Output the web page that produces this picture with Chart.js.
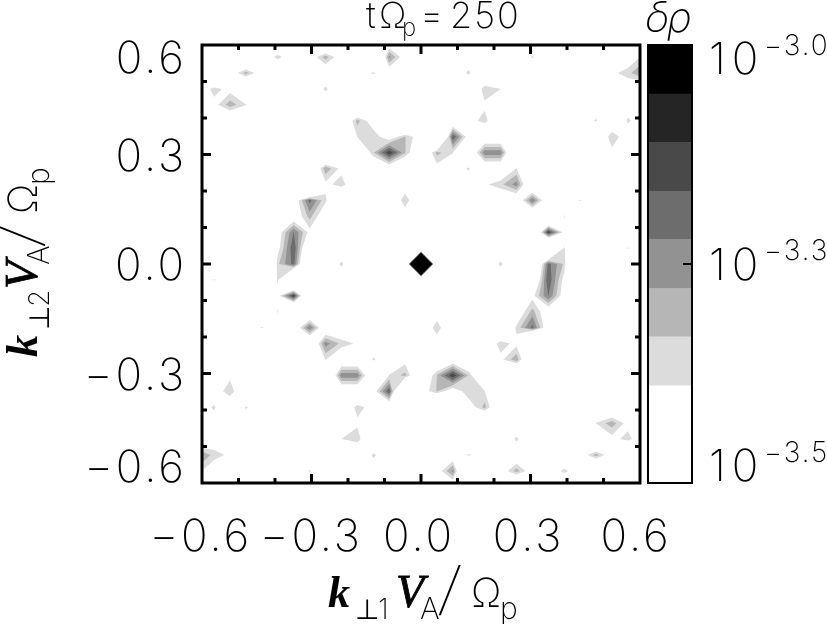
<!DOCTYPE html>
<html><head><meta charset="utf-8">
<script src="https://cdn.jsdelivr.net/npm/chart.js@4/dist/chart.umd.js"></script>
<style>html,body{margin:0;padding:0;background:#fff;overflow:hidden}canvas{position:absolute;left:0;top:0}</style>
</head><body>
<canvas id="main" width="827" height="624"></canvas>
<canvas id="bar" width="827" height="624"></canvas>
<script>
// ---------- DATA ----------
const xTicks = [-0.6,-0.3,0,0.3,0.6];
const yTicks = [-0.6,-0.3,0,0.3,0.6];
const minorTicks = [-0.5,-0.4,-0.2,-0.1,0.1,0.2,0.4,0.5];
const contourLevels = [-3.389,-3.333,-3.278,-3.222,-3.167,-3.111,-3.056];
const contourColors = ['#dcdcdc','#b6b6b6','#929292','#6d6d6d','#494949','#252525','#000000'];
const bandLow  = [-3.5,-3.444,-3.389,-3.333,-3.278,-3.222,-3.167,-3.111,-3.056];
const bandHigh = [-3.444,-3.389,-3.333,-3.278,-3.222,-3.167,-3.111,-3.056,-3.0];
const bandColors = ['#ffffff','#ffffff','#dcdcdc','#b6b6b6','#929292','#6d6d6d','#494949','#252525','#000000'];
const colorTicks = [-3.5,-3.25,-3.0];
const colorExponents = ['\u22123.5','\u22123.3','\u22123.0'];
const gridStep = 0.0436;   // mode spacing in k
const background = -3.7;   // log10 of amplitude of unlisted modes
// [i, j, log10 amplitude]; the spectrum is point-symmetric, (-i,-j) has the same value
const modes = [
 [0,0,-0.5],[1,0,-4.2],[0,1,-4.2],[1,1,-4.2],[-1,1,-4.2],
 [-9,13,-3.34],[-10,13,-3.54],[-8,13,-3.54],
 [-6,13,-3.30],[-7,13,-3.46],[-5,13,-3.46],[-5,14,-3.34],
 [-2,13,-3.26],[-1,13,-3.448],[-3,13,-3.78],[-2,14,-3.49],[-2,12,-3.47],
 [-11,12,-3.30],[-12,12,-3.47],[-10,12,-3.47],
 [-3,12,-3.37],[-4,12,-3.47],
 [-6,11,-3.37],[-7,11,-3.5],[-5,11,-3.5],[-6,12,-3.5],[-6,10,-3.5],
 [-13,11,-3.36],[-12,11,-3.42],[-14,11,-3.476],[-13,10,-3.42],
 [-12,10,-3.30],[-11,10,-3.38],[-12,9,-3.554],
 [-2,7,-3.12],[-3,7,-3.34],[-1,7,-3.32],[-2,6,-3.48],[-3,6,-3.55],[-1,6,-3.6],[-4,7,-3.6],
 [-3,8,-3.34],[-2,8,-3.46],[-1,8,-3.33],[0,8,-3.45],[0,7,-3.56],[-1,9,-3.8],[-2,9,-3.8],
 [-3,9,-3.45],[-4,9,-3.31],[-4,8,-3.385],[-5,9,-3.56],
 [-6,6,-3.29],[-5,6,-3.41],[-6,5,-3.41],[-7,6,-3.6],
 [-5,5,-3.36],[-4,5,-3.476],[-5,4,-3.55],
 [-7,4,-3.2],[-7,5,-4.2],[-8,4,-3.475],[-6,4,-3.375],[-7,3,-3.31],[-7,2,-3.415],[-8,3,-3.47],[-6,3,-3.47],
 [-8,2,-3.22],[-8,1,-3.17],[-8,0,-3.2],[-8,-1,-3.9],[-9,-1,-3.375],[-9,0,-3.345],[-10,0,-4],
 [-7,1,-3.58],[-9,2,-3.443],[-9,1,-3.423],
 [-1,4,-3.375],[-2,4,-3.43],[0,4,-3.43],[-1,5,-3.407],[-1,3,-3.407],
 [-5,0,-3.38],[-6,0,-3.45],[-4,0,-3.45],[-5,1,-3.43],[-5,-1,-3.43],
 [3,12,-3.375],[2,12,-3.45],[4,12,-3.5],[3,11,-3.5],[3,13,-3.45],
 [4,11,-3.36],[5,11,-3.388],[4,10,-3.40],
 [4,9,-3.37],[3,9,-3.413],[5,9,-3.47],
 [2,8,-3.17],[2,9,-3.52],[3,8,-3.44],[1,8,-3.9],[2,7,-3.387],
 [1,7,-3.31],[1,6,-3.425],
 [4,7,-3.24],[5,7,-3.24],[3,7,-3.54],[6,7,-3.64],[4,8,-3.51],[5,8,-3.505],[4,6,-3.505],[5,6,-3.505],
 [3,6,-3.38],[2,6,-3.44],[3,5,-3.44],
 [6,5,-3.25],[5,5,-3.35],[4,5,-3.402],[6,6,-3.385],[7,5,-3.57],[6,4,-3.5],[5,4,-3.506],
 [7,4,-3.22],[8,4,-3.5],[7,3,-3.58],
 [10,4,-3.38],[9,4,-3.45],[11,4,-3.45],
 [9,3,-3.38],[9,2,-3.42],
 [8,2,-3.12],[8,3,-3.78],
 [11,9,-3.38],[10,9,-3.452],[12,9,-3.52],[11,8,-3.566],[11,10,-3.452],
 [13,9,-3.375],[14,9,-3.45],[13,10,-3.445],[13,8,-3.465],
 [12,8,-3.33],[12,7,-3.416],
 [14,12,-3.24],[13,12,-3.36],[12,12,-3.406],[14,13,-3.37],[13,13,-3.45],[13,11,-3.453],[14,11,-3.54],
 [13,1,-3.38],[12,1,-3.43],[14,1,-3.43],
 [7,13,-3.38],[6,13,-3.5],[8,13,-3.5],[7,14,-3.5],[7,12,-3.5]
];
const titleRuns = [
 {t:'t',x:366,y:28,f:'200 36px Inter'},
 {t:'\u03A9',x:379,y:28,f:'200 36px Inter'},
 {t:'p',x:402,y:36,f:'200 24px Inter'},
 {t:'=',x:420,y:28,f:'200 36px Inter'},
 {t:'250',x:450,y:28,f:'200 36px Inter',ls:'2px'}
];
// ---------- STYLE ----------
const lightFont = {family:'Inter',size:44,weight:'200'};
const mathRuns = [
 {t:'k',d:0,dy:0,f:'italic bold 44px "Liberation Serif"'},
 {t:'\u22A5',d:27,dy:12,f:'200 28px "DejaVu Sans"'},
 {t:'V',d:68,dy:0,f:'italic 46px "Liberation Serif"',stroke:0.8},
 {t:'A',d:92,dy:12,f:'200 30px Inter'},
 {t:'/',d:108,dy:2,f:'100 50px Inter',sx:1.7,sy:1.15},
 {t:'\u03A9',d:143,dy:0,f:'200 40px Inter'},
 {t:'p',d:172,dy:12,f:'200 30px Inter'}
];
const yShift = {'-0.6':-14,'-0.3':3,'0':3,'0.3':3,'0.6':15};
const xShift = {'-0.6':-1,'-0.3':0,'0':-2,'0.3':-2,'0.6':-4};
const fmt = v => (v<0?'\u2212':'')+Math.abs(v).toFixed(1);

// ---------- CONTOURS via marching squares on the mode grid ----------
const N = 16;
const grid = new Map();
const keyOf = (i,j)=>i+','+j;
modes.forEach(([i,j,v])=>{grid.set(keyOf(i,j),v);grid.set(keyOf(-i,-j),v);});
const val = (i,j)=>grid.has(keyOf(i,j))?grid.get(keyOf(i,j)):background;
function loops(L){
  const next = new Map(), pts = new Map();
  const edgeInfo = (i,j,e)=>{ // edges ccw: 0 bottom,1 right,2 top,3 left
    if(e===0) return {k:'h'+i+','+j,a:[i,j],b:[i+1,j]};
    if(e===1) return {k:'v'+(i+1)+','+j,a:[i+1,j],b:[i+1,j+1]};
    if(e===2) return {k:'h'+i+','+(j+1),a:[i,j+1],b:[i+1,j+1]};
    return {k:'v'+i+','+j,a:[i,j],b:[i,j+1]};
  };
  const cross = info=>{
    const va=val(...info.a), vb=val(...info.b), t=(L-va)/(vb-va);
    pts.set(info.k,{x:(info.a[0]+t*(info.b[0]-info.a[0]))*gridStep,y:(info.a[1]+t*(info.b[1]-info.a[1]))*gridStep});
    return info.k;
  };
  for(let i=-N;i<N;i++)for(let j=-N;j<N;j++){
    const c=[[i,j],[i+1,j],[i+1,j+1],[i,j+1]].map(p=>val(...p)>=L);
    for(let k=0;k<4;k++){
      if(c[k]&&!c[(k+1)%4]){ // exit edge k: walk back to entry edge of same high run
        let m=(k+3)%4;
        while(!( !c[m]&&c[(m+1)%4] )) m=(m+3)%4;
        next.set(cross(edgeInfo(i,j,k)),cross(edgeInfo(i,j,m)));
      }
    }
  }
  const out=[], seen=new Set();
  for(const s of next.keys()){
    if(seen.has(s))continue;
    const loop=[];let k=s;
    while(k!==undefined&&!seen.has(k)){seen.add(k);loop.push(pts.get(k));k=next.get(k);}
    loop.push(loop[0]);
    out.push(loop);
  }
  return out;
}
const datasets=[];
for(let l=contourLevels.length-1;l>=0;l--){
  loops(contourLevels[l]).forEach(loop=>datasets.push({
    data:loop,showLine:true,fill:'shape',backgroundColor:contourColors[l],
    borderWidth:0,borderColor:'transparent',pointRadius:0,tension:0
  }));
}

// ---------- PLUGINS ----------
function drawMath(ctx,sub,horizontal,start,base){
  ctx.save();
  ctx.fillStyle='#000';ctx.strokeStyle='#000';ctx.textAlign='left';ctx.textBaseline='alphabetic';
  if(horizontal){ctx.translate(start,base);}else{ctx.translate(base,start);ctx.rotate(-Math.PI/2);}
  mathRuns.forEach(r=>{
    ctx.save();
    ctx.font=r.f;
    ctx.translate(r.d,r.dy);
    if(r.sx)ctx.scale(r.sx,r.sy);
    ctx.fillText(r.t,0,0);
    if(r.stroke){ctx.lineWidth=r.stroke;ctx.strokeText(r.t,0,0);}
    ctx.restore();
  });
  ctx.font='200 28px Inter';
  ctx.fillText(sub,50,12);
  ctx.restore();
}
const framePlugin={
  id:'frame',
  beforeDraw(chart){
    const ctx=chart.ctx;
    ctx.letterSpacing='3px';
    const xs=chart.scales.x, ys=chart.scales.y;
    xs.getLabelItems(chart.chartArea).forEach((it,n)=>{
      const v=xTicks[n]; it.options.translation[0]+=xShift[String(v)]; it.options.translation[1]=511;
    });
    ys.getLabelItems(chart.chartArea).forEach((it,n)=>{
      const v=ys.ticks[n].value; it.options.translation[1]+=yShift[String(v)];
    });
  },
  afterDraw(chart){
    const ctx=chart.ctx, a=chart.chartArea, xs=chart.scales.x, ys=chart.scales.y;
    ctx.save();
    ctx.letterSpacing='0px';
    ctx.strokeStyle='#000';ctx.lineWidth=3;ctx.lineCap='butt';
    const tick=(vals,len)=>{
      vals.forEach(v=>{
        const px=xs.getPixelForValue(v), py=ys.getPixelForValue(v);
        ctx.beginPath();
        ctx.moveTo(px,a.bottom);ctx.lineTo(px,a.bottom-len);
        ctx.moveTo(px,a.top);ctx.lineTo(px,a.top+len);
        ctx.moveTo(a.left,py);ctx.lineTo(a.left+len,py);
        ctx.moveTo(a.right,py);ctx.lineTo(a.right-len,py);
        ctx.stroke();
      });
    };
    tick(xTicks.filter(v=>Math.abs(v)<0.6),9);
    tick(minorTicks,5);
    ctx.strokeRect(a.left,a.top,a.right-a.left,a.bottom-a.top);
    ctx.fillStyle='#000';ctx.textBaseline='alphabetic';ctx.textAlign='left';
    titleRuns.forEach(r=>{ctx.font=r.f;ctx.letterSpacing=r.ls||'0px';ctx.fillText(r.t,r.x,r.y);});
    ctx.letterSpacing='0px';
    ctx.restore();
    drawMath(ctx,'1',true,328,607);
    drawMath(ctx,'2',false,357,37);
  }
};
const barPlugin={
  id:'barframe',
  beforeDraw(chart){
    chart.ctx.letterSpacing='6px';
    const ys=chart.scales.y;
    ys.getLabelItems(chart.chartArea).forEach((it,n)=>{
      const v=ys.ticks[n].value;
      it.options.translation[1]+= v===-3.5?-15:(v===-3?16:3);
    });
  },
  afterDraw(chart){
    const ctx=chart.ctx,a=chart.chartArea,ys=chart.scales.y;
    ctx.save();
    ctx.letterSpacing='0px';
    ctx.strokeStyle='#000';ctx.lineWidth=2;
    ctx.strokeRect(a.left,a.top,a.right-a.left,a.bottom-a.top);
    colorTicks.forEach((v,n)=>{
      const py=ys.getPixelForValue(v);
      ctx.beginPath();ctx.moveTo(a.right-9,py);ctx.lineTo(a.right,py);ctx.stroke();
      ctx.fillStyle='#000';ctx.font='200 28px Inter';ctx.letterSpacing='2px';
      ctx.textAlign='left';ctx.textBaseline='alphabetic';
      const base= v===-3.5?462:(v===-3?55:260);
      ctx.fillText(colorExponents[n],764,base);
    });
    ctx.letterSpacing='0px';
    ctx.font='italic 200 42px Inter';
    ctx.fillStyle='#000';
    ctx.fillText('\u03B4',645,32);
    ctx.fillText('\u03C1',667,32);
    ctx.restore();
  }
};

// ---------- CHARTS ----------
new Chart(document.getElementById('main'),{
  type:'scatter',
  data:{datasets},
  options:{
    responsive:false,animation:false,devicePixelRatio:1,
    layout:{padding:{top:45,right:187,left:0,bottom:0}},
    plugins:{legend:{display:false},tooltip:{enabled:false},title:{display:false}},
    events:[],
    scales:{
      x:{type:'linear',min:-0.6,max:0.6,
        grid:{display:false},border:{display:false},
        afterBuildTicks:s=>{s.ticks=xTicks.map(v=>({value:v}));},
        afterFit:s=>{s.height=141;},
        ticks:{color:'#000',font:lightFont,maxRotation:0,autoSkip:false,padding:30,callback:fmt}},
      y:{type:'linear',min:-0.6,max:0.6,
        grid:{display:false},border:{display:false},
        afterBuildTicks:s=>{s.ticks=yTicks.map(v=>({value:v}));},
        afterFit:s=>{s.width=202;},
        ticks:{color:'#000',font:lightFont,autoSkip:false,padding:7,callback:fmt}}
    }
  },
  plugins:[framePlugin]
});
new Chart(document.getElementById('bar'),{
  type:'bar',
  data:{labels:['\u03B4\u03C1'],datasets:bandLow.map((lo,n)=>({
    data:[[lo,bandHigh[n]]],backgroundColor:bandColors[n],borderWidth:0,
    barPercentage:1,categoryPercentage:1,grouped:false
  }))},
  options:{
    responsive:false,animation:false,devicePixelRatio:1,
    layout:{padding:{top:45,left:648,right:0,bottom:141}},
    plugins:{legend:{display:false},tooltip:{enabled:false}},
    events:[],
    scales:{
      x:{display:false,grid:{display:false}},
      y:{position:'right',min:-3.5,max:-3.0,
        grid:{display:false},border:{display:false},
        afterBuildTicks:s=>{s.ticks=colorTicks.map(v=>({value:v}));},
        afterFit:s=>{s.width=135;},
        ticks:{color:'#000',font:lightFont,padding:9,autoSkip:false,callback:()=>'10'}}
    }
  },
  plugins:[barPlugin]
});
</script>
</body></html>
